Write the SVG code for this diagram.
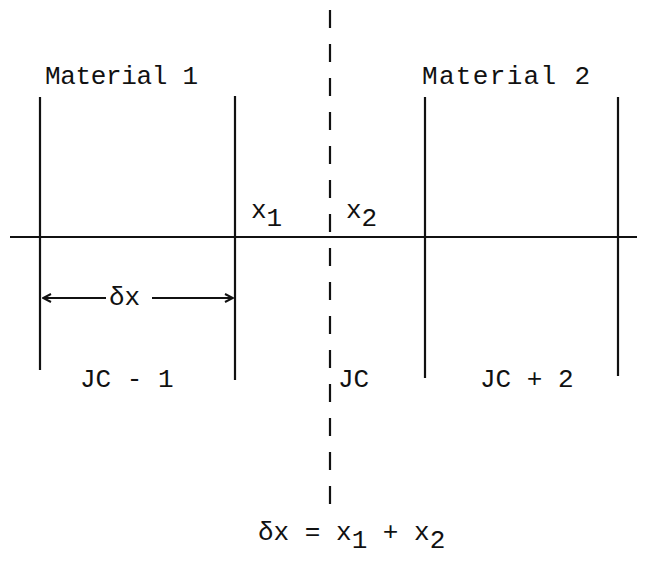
<svg xmlns="http://www.w3.org/2000/svg" width="650" height="566" viewBox="0 0 650 566">
<style>
.t{font-family:"Liberation Mono","DejaVu Sans Mono",monospace;font-size:26px;fill:#111}
.ln{stroke:#111;stroke-width:2.2;fill:none}
.dash{stroke:#111;stroke-width:2.2;stroke-dasharray:18 16;fill:none}
</style>
<defs>
<marker id="ah" viewBox="0 0 10 10" refX="9" refY="5" markerWidth="10" markerHeight="10" markerUnits="userSpaceOnUse" orient="auto-start-reverse">
<path d="M1,1 L9,5 L1,9" fill="none" stroke="#111" stroke-width="2"/>
</marker>
</defs>
<rect width="650" height="566" fill="#fff"/>
<g id="connectors">
<line class="ln" x1="10" y1="237" x2="637" y2="237"/>
<line class="ln" x1="40" y1="97" x2="40" y2="370"/>
<line class="ln" x1="235" y1="96" x2="235" y2="380"/>
<line class="ln" x1="425" y1="97" x2="425" y2="378"/>
<line class="ln" x1="618" y1="97" x2="618" y2="376"/>
<line class="dash" x1="330" y1="10" x2="330" y2="505"/>
<line class="ln" x1="43" y1="298" x2="106" y2="298" stroke-width="1.8" marker-start="url(#ah)"/>
<line class="ln" x1="152" y1="298" x2="233" y2="298" stroke-width="1.8" marker-end="url(#ah)"/>
</g>
<g id="material1"><text class="t" x="45" y="84" textLength="153">Material 1</text></g>
<g id="material2"><text class="t" x="422" y="84" textLength="168">Material 2</text></g>
<g id="x1"><text class="t" x="251" y="218">x<tspan dy="8">1</tspan></text></g>
<g id="x2"><text class="t" x="346" y="218">x<tspan dy="8">2</tspan></text></g>
<g id="dx"><text class="t" x="109" y="305">δx</text></g>
<g id="jcm1"><text class="t" x="80" y="387">JC - 1</text></g>
<g id="jc"><text class="t" x="338" y="387">JC</text></g>
<g id="jcp2"><text class="t" x="480" y="387">JC + 2</text></g>
<g id="eq"><text class="t" x="258" y="540">δx = x<tspan dy="8">1</tspan><tspan dy="-8"> + x</tspan><tspan dy="8">2</tspan></text></g>
</svg>
